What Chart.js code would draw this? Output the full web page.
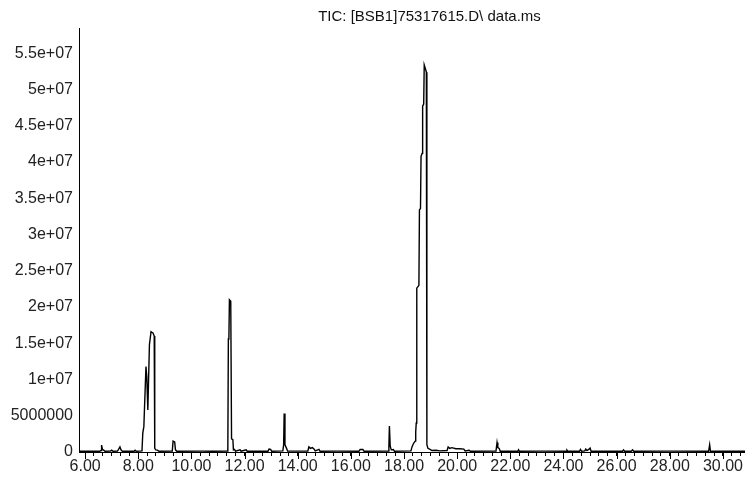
<!DOCTYPE html>
<html>
<head>
<meta charset="utf-8">
<script src="https://cdn.jsdelivr.net/npm/chart.js@4.4.1/dist/chart.umd.min.js"></script>
<style>
  html, body { margin: 0; padding: 0; background: #ffffff; }
  #wrap { width: 745px; height: 484px; }
</style>
</head>
<body>
<div id="wrap"><canvas id="c" width="745" height="484"></canvas></div>
<script>
// ---- data ----
const chartTitle = 'TIC: [BSB1]75317615.D\\ data.ms';

// retention time (min)
const retentionTimes = [
  5.78, 6.20, 6.55, 6.60, 6.62, 6.65, 6.70, 6.75, 6.95, 7.00, 7.05,
  7.22, 7.27, 7.31, 7.35, 7.40, 7.84, 7.88, 7.92,
  8.14, 8.17, 8.21, 8.29, 8.32, 8.36, 8.42, 8.48, 8.56, 8.60, 8.62, 8.66, 8.72, 8.78,
  9.28, 9.31, 9.37, 9.40, 9.45,
  10.40, 10.80, 11.37, 11.39, 11.41, 11.43, 11.48, 11.51, 11.56, 11.58, 11.62, 11.66,
  11.83, 11.87, 12.06, 12.10, 12.88, 12.92, 12.98, 13.02,
  13.44, 13.47, 13.49, 13.52, 13.58, 13.62,
  14.38, 14.42, 14.48, 14.55, 14.62, 14.66, 14.80, 14.84,
  15.50, 16.30, 16.35, 16.45, 16.50,
  17.40, 17.43, 17.45, 17.48, 17.52, 17.60, 17.64,
  18.26, 18.30, 18.36, 18.42, 18.44, 18.46, 18.48, 18.56, 18.58, 18.62, 18.64, 18.68,
  18.70, 18.74, 18.76, 18.81, 18.84, 18.86, 18.90, 18.98, 19.05, 19.20, 19.35,
  19.62, 19.66, 19.72, 19.80, 19.95, 20.10, 20.25, 20.30, 20.45, 20.50,
  21.46, 21.50, 21.53, 21.58, 21.62, 22.28, 22.31, 22.34,
  23.20, 24.10, 24.13, 24.16, 24.60, 24.64, 24.68, 24.80, 24.84, 24.88, 24.95, 25.00, 25.04,
  26.22, 26.26, 26.30, 26.55, 26.60, 26.64,
  28.00, 29.46, 29.50, 29.53, 30.83
];

// total ion current (abundance)
const ticAbundance = [
  1.0e5, 1.2e5, 1.0e5, 2.0e5, 9.5e5, 3.5e5, 2.5e5, 1.0e5, 1.2e5, 2.5e5, 1.0e5,
  1.2e5, 4.5e5, 7.0e5, 3.0e5, 1.0e5, 1.0e5, 2.5e5, 1.0e5,
  1.5e5, 2.6e6, 3.5e6, 1.18e7, 1.04e7, 5.8e6, 1.48e7, 1.66e7, 1.64e7, 1.60e7, 5.0e5, 3.0e5, 2.5e5, 1.0e5,
  1.2e5, 1.5e6, 1.4e6, 3.0e5, 1.0e5,
  1.2e5, 1.0e5, 1.2e5, 1.56e7, 1.57e7, 2.10e7, 2.08e7, 1.8e6, 1.7e6, 3.0e5, 3.5e5, 1.2e5,
  3.0e5, 1.0e5, 3.0e5, 1.0e5, 1.0e5, 4.0e5, 3.5e5, 1.0e5,
  1.5e5, 1.0e6, 5.3e6, 1.0e6, 5.0e5, 1.2e5,
  1.2e5, 7.0e5, 5.0e5, 6.0e5, 4.0e5, 1.5e5, 3.5e5, 1.0e5,
  1.2e5, 1.0e5, 3.5e5, 3.5e5, 1.0e5,
  1.2e5, 8.0e5, 3.6e6, 8.0e5, 3.0e5, 3.5e5, 1.0e5,
  1.5e5, 7.0e5, 1.2e6, 1.5e6, 2.8e6, 4.0e6, 2.26e7, 2.30e7, 3.34e7, 3.36e7, 4.08e7, 4.12e7,
  4.77e7, 4.80e7, 5.34e7, 5.28e7, 5.24e7, 1.0e6, 5.0e5, 3.5e5, 2.0e5, 2.5e5, 1.5e5,
  2.0e5, 7.0e5, 5.0e5, 6.0e5, 4.5e5, 4.5e5, 4.0e5, 1.5e5, 2.5e5, 1.0e5,
  1.2e5, 1.3e6, 6.0e5, 5.0e5, 1.0e5, 1.0e5, 3.0e5, 1.0e5,
  1.2e5, 1.0e5, 2.5e5, 1.0e5, 1.0e5, 3.5e5, 1.0e5, 1.5e5, 4.0e5, 2.0e5, 3.5e5, 5.5e5, 1.0e5,
  1.0e5, 3.0e5, 1.0e5, 1.0e5, 3.0e5, 1.0e5,
  1.2e5, 1.0e5, 1.0e6, 1.0e5, 1.0e5
];

// axis ticks
const yTickValues = [0, 5e6, 1e7, 1.5e7, 2e7, 2.5e7, 3e7, 3.5e7, 4e7, 4.5e7, 5e7, 5.5e7];
const yTickLabels = ['0', '5000000', '1e+07', '1.5e+07', '2e+07', '2.5e+07', '3e+07',
                     '3.5e+07', '4e+07', '4.5e+07', '5e+07', '5.5e+07'];
const xLabelValues = [6, 8, 10, 12, 14, 16, 18, 20, 22, 24, 26, 28, 30];
const xTickLabels = ['6.00', '8.00', '10.00', '12.00', '14.00', '16.00', '18.00',
                     '20.00', '22.00', '24.00', '26.00', '28.00', '30.00'];

// ---- chart ----
const xMin = 5.77, xMax = 30.83, yMax = 5.85e7;
const minorStep = 1 / 3;
const xTickValues = [];
for (let k = 0; 6 + k * minorStep <= xMax; k++) xTickValues.push(6 + k * minorStep);

const points = retentionTimes.map((t, i) => ({ x: t, y: ticAbundance[i] }));
const FONT = "'Liberation Sans', Arial, Helvetica, sans-serif";

const shiftTitle = {
  id: 'shiftTitle',
  afterLayout(chart) {
    const t = chart.titleBlock;
    if (t) { t.left += 57; t.right += 57; }
  }
};

// longer tick marks at the labelled (major) x positions
const majorTicks = {
  id: 'majorTicks',
  afterDraw(chart) {
    const xs = chart.scales.x;
    const ctx = chart.ctx;
    ctx.save();
    ctx.strokeStyle = '#000000';
    ctx.lineWidth = 1;
    ctx.beginPath();
    xLabelValues.forEach(v => {
      const px = Math.round(xs.getPixelForValue(v)) + 0.5;
      ctx.moveTo(px, xs.top);
      ctx.lineTo(px, xs.top + 7);
    });
    ctx.stroke();
    ctx.restore();
  }
};

new Chart(document.getElementById('c'), {
  type: 'line',
  data: {
    datasets: [{
      data: points,
      borderColor: '#000000',
      borderWidth: 1.4,
      pointRadius: 0,
      tension: 0,
      fill: false
    }]
  },
  options: {
    responsive: false,
    animation: false,
    devicePixelRatio: 1,
    layout: { padding: 0 },
    plugins: {
      legend: { display: false },
      tooltip: { enabled: false },
      title: {
        display: true,
        text: chartTitle,
        color: '#111111',
        font: { family: FONT, size: 15, weight: 'normal', lineHeight: 1.2 },
        padding: { top: 8, bottom: 2 }
      }
    },
    scales: {
      x: {
        type: 'linear',
        min: xMin,
        max: xMax,
        afterBuildTicks(scale) {
          scale.ticks = xTickValues.map(v => ({ value: v }));
        },
        afterFit(scale) { scale.height = 32; },
        border: { display: true, color: '#000000', width: 1 },
        grid: { display: true, drawOnChartArea: false, drawTicks: true, tickLength: 4, tickColor: '#000000', tickWidth: 1 },
        ticks: {
          autoSkip: false,
          maxRotation: 0,
          padding: 1,
          color: '#222222',
          font: { family: FONT, size: 16 },
          callback(value) {
            const idx = xLabelValues.findIndex(v => Math.abs(v - value) < 1e-6);
            return idx >= 0 ? xTickLabels[idx] : '';
          }
        }
      },
      y: {
        type: 'linear',
        min: 0,
        max: yMax,
        afterBuildTicks(scale) {
          scale.ticks = yTickValues.map(v => ({ value: v }));
        },
        afterFit(scale) { scale.width = 79; },
        border: { display: true, color: '#000000', width: 1 },
        grid: { display: false, drawTicks: false },
        ticks: {
          autoSkip: false,
          padding: 6,
          color: '#222222',
          font: { family: FONT, size: 16 },
          callback(value) {
            const idx = yTickValues.findIndex(v => Math.abs(v - value) < 1);
            return idx >= 0 ? yTickLabels[idx] : '';
          }
        }
      }
    }
  },
  plugins: [shiftTitle, majorTicks]
});
</script>
</body>
</html>
